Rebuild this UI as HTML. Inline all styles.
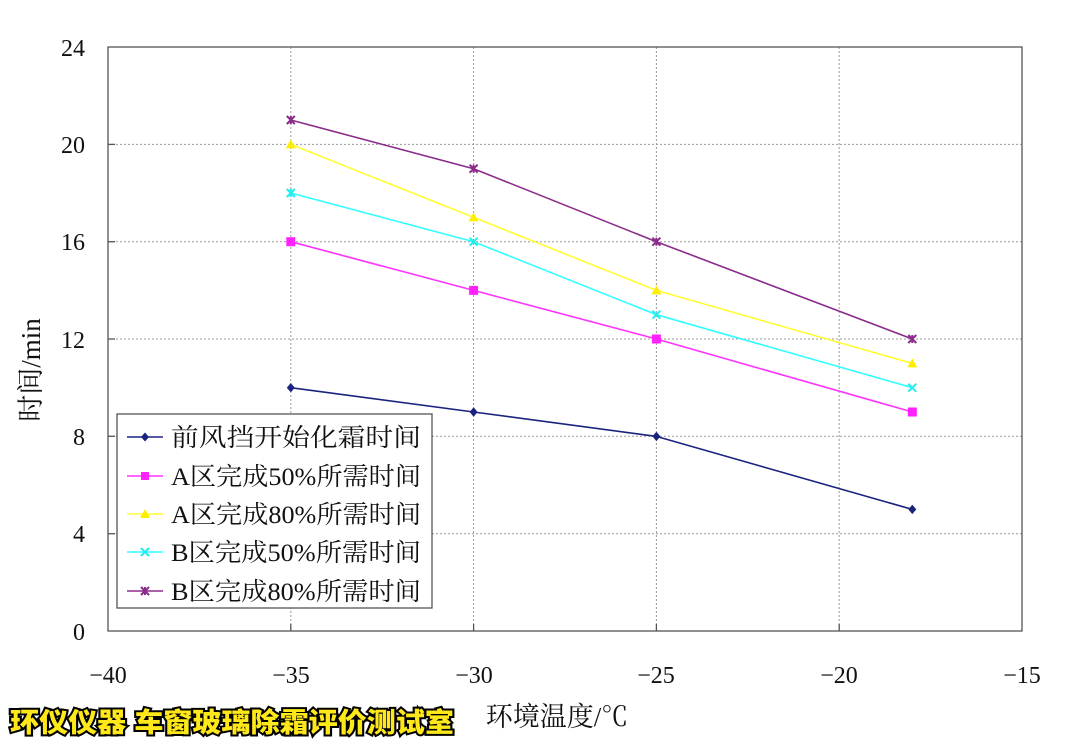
<!DOCTYPE html>
<html><head><meta charset="utf-8"><style>
body{margin:0;background:#fff;width:1074px;height:748px;overflow:hidden}
svg text{font-family:"Liberation Serif","Noto Serif CJK SC",serif;fill:#111}
.cap{font-family:"Liberation Sans","Noto Sans CJK SC",sans-serif;font-weight:900;font-size:27px;fill:#ffe81a;stroke:#000;stroke-width:4px;paint-order:stroke;}
</style></head><body>
<svg width="1074" height="748" xmlns="http://www.w3.org/2000/svg">
<rect x="0" y="0" width="1074" height="748" fill="#fff"/>
<g stroke="#999" stroke-width="1" stroke-dasharray="2,2">
<line x1="290.8" y1="47" x2="290.8" y2="631"/><line x1="473.6" y1="47" x2="473.6" y2="631"/>
<line x1="656.4" y1="47" x2="656.4" y2="631"/><line x1="839.2" y1="47" x2="839.2" y2="631"/>
<line x1="108" y1="144.4" x2="1022" y2="144.4"/><line x1="108" y1="241.7" x2="1022" y2="241.7"/>
<line x1="108" y1="339" x2="1022" y2="339"/><line x1="108" y1="436.3" x2="1022" y2="436.3"/>
<line x1="108" y1="533.7" x2="1022" y2="533.7"/>
</g>
<rect x="108" y="47" width="914" height="584" fill="none" stroke="#555" stroke-width="1.3"/>
<g stroke="#555" stroke-width="1.3">
<line x1="290.8" y1="631" x2="290.8" y2="624"/><line x1="473.6" y1="631" x2="473.6" y2="624"/><line x1="656.4" y1="631" x2="656.4" y2="624"/><line x1="839.2" y1="631" x2="839.2" y2="624"/>
<line x1="108" y1="144.4" x2="115" y2="144.4"/><line x1="108" y1="241.7" x2="115" y2="241.7"/><line x1="108" y1="339" x2="115" y2="339"/><line x1="108" y1="436.3" x2="115" y2="436.3"/><line x1="108" y1="533.7" x2="115" y2="533.7"/>
</g>
<g font-size="24" text-anchor="end">
<text x="85" y="56">24</text><text x="85" y="153">20</text><text x="85" y="250">16</text><text x="85" y="348">12</text><text x="85" y="445">8</text><text x="85" y="542">4</text><text x="85" y="640">0</text>
</g>
<g font-size="24" text-anchor="middle">
<text x="108" y="683">−40</text><text x="291" y="683">−35</text><text x="474" y="683">−30</text><text x="656" y="683">−25</text><text x="839" y="683">−20</text><text x="1022" y="683">−15</text>
</g>
<text x="557" y="726" font-size="27" text-anchor="middle">环境温度/℃</text>
<text transform="translate(40,370) rotate(-90)" font-size="27" text-anchor="middle">时间/min</text>
<polyline points="290.8,387.7 473.6,412 656.4,436.4 912.3,509.4" fill="none" stroke="#1a237e" stroke-width="1.6"/>
<polyline points="290.8,241.7 473.6,290.4 656.4,339 912.3,412" fill="none" stroke="#ff33ff" stroke-width="1.6"/>
<polyline points="290.8,144.4 473.6,217.4 656.4,290.4 912.3,363.4" fill="none" stroke="#ffff33" stroke-width="1.6"/>
<polyline points="290.8,193 473.6,241.7 656.4,314.7 912.3,387.7" fill="none" stroke="#33ffff" stroke-width="1.6"/>
<polyline points="290.8,120 473.6,168.7 656.4,241.7 912.3,339" fill="none" stroke="#8b2c8b" stroke-width="1.6"/>
<g fill="#1a237e"><path d="M290.8 383l4 4.7-4 4.7-4-4.7z"/><path d="M473.6 407.3l4 4.7-4 4.7-4-4.7z"/><path d="M656.4 431.7l4 4.7-4 4.7-4-4.7z"/><path d="M912.3 504.7l4 4.7-4 4.7-4-4.7z"/></g>
<g fill="#ff22ff"><rect x="286.3" y="237.2" width="9" height="9"/><rect x="469.1" y="285.9" width="9" height="9"/><rect x="651.9" y="334.5" width="9" height="9"/><rect x="907.8" y="407.5" width="9" height="9"/></g>
<g fill="#ffee00"><path d="M290.8 139.4l5 9h-10z"/><path d="M473.6 212.4l5 9h-10z"/><path d="M656.4 285.4l5 9h-10z"/><path d="M912.3 358.4l5 9h-10z"/></g>
<g stroke="#22eeee" stroke-width="2"><path d="M286.8 189l8 8M294.8 189l-8 8M290.8 189v8"/><path d="M469.6 237.7l8 8M477.6 237.7l-8 8"/><path d="M652.4 310.7l8 8M660.4 310.7l-8 8"/><path d="M908.3 383.7l8 8M916.3 383.7l-8 8"/></g>
<g stroke="#8b2c8b" stroke-width="2"><path d="M286.8 116l8 8M294.8 116l-8 8M290.8 116v8"/><path d="M469.6 164.7l8 8M477.6 164.7l-8 8M473.6 164.7v8"/><path d="M652.4 237.7l8 8M660.4 237.7l-8 8M656.4 237.7v8"/><path d="M908.3 335l8 8M916.3 335l-8 8M912.3 335v8"/></g>
<rect x="117" y="414" width="315" height="194" fill="#fff" stroke="#555" stroke-width="1.3"/>
<g stroke-width="1.6">
<line x1="127" y1="437" x2="163" y2="437" stroke="#1a237e"/><path d="M145 432.5l4 4.5-4 4.5-4-4.5z" fill="#1a237e"/>
<line x1="127" y1="476" x2="163" y2="476" stroke="#ff33ff"/><rect x="141" y="472" width="8" height="8" fill="#ff22ff"/>
<line x1="127" y1="514" x2="163" y2="514" stroke="#ffff33"/><path d="M145 509l5 9h-10z" fill="#ffee00"/>
<line x1="127" y1="552" x2="163" y2="552" stroke="#33ffff"/><path d="M141 548l8 8M149 548l-8 8" stroke="#22eeee" stroke-width="2"/>
<line x1="127" y1="591" x2="163" y2="591" stroke="#8b2c8b"/><path d="M141 587l8 8M149 587l-8 8M145 587v8" stroke="#8b2c8b" stroke-width="2"/>
</g>
<g font-size="25">
<text x="171" y="446" textLength="250" lengthAdjust="spacingAndGlyphs">前风挡开始化霜时间</text>
<text x="171" y="485" textLength="250" lengthAdjust="spacingAndGlyphs">A区完成50%所需时间</text>
<text x="171" y="523" textLength="250" lengthAdjust="spacingAndGlyphs">A区完成80%所需时间</text>
<text x="171" y="561" textLength="250" lengthAdjust="spacingAndGlyphs">B区完成50%所需时间</text>
<text x="171" y="600" textLength="250" lengthAdjust="spacingAndGlyphs">B区完成80%所需时间</text>
</g>
<text class="cap" x="10" y="732" textLength="444" lengthAdjust="spacingAndGlyphs">环仪仪器 车窗玻璃除霜评价测试室</text>
</svg>
</body></html>
